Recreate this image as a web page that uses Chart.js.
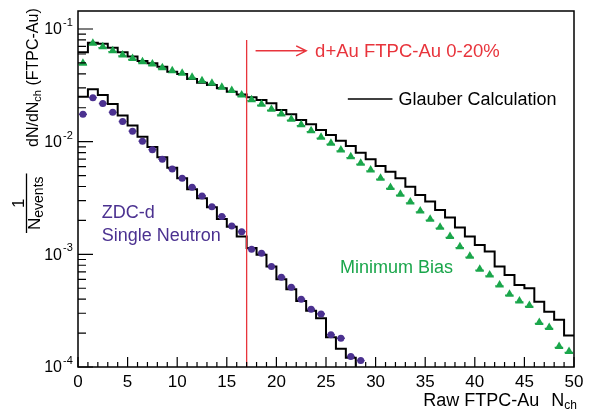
<!DOCTYPE html>
<html>
<head>
<meta charset="utf-8">
<script src="https://cdn.jsdelivr.net/npm/chart.js@4.4.0/dist/chart.umd.min.js"></script>
<style>
  html, body { margin: 0; padding: 0; background: #fff; }
  #wrap { width: 592px; height: 410px; position: relative; }
</style>
</head>
<body>
<div id="wrap"><canvas id="multChart"></canvas></div>
<script>
// one value per unit-width Nch bin, starting at Nch = 0
const glauberMinBias = [
  0.0621, 0.0756, 0.0741, 0.0683, 0.0621, 0.0569, 0.0520, 0.0496, 0.0463, 0.0418,
  0.0399, 0.0360, 0.0334, 0.0319, 0.0298, 0.0278, 0.0262, 0.0248, 0.0234, 0.0219,
  0.0191, 0.0175, 0.0156, 0.01426, 0.0127, 0.01146, 0.0102, 0.00916, 0.00798, 0.00698,
  0.00609, 0.00542, 0.00473, 0.00399, 0.00337, 0.00294, 0.00248, 0.00212, 0.00173, 0.00144,
  0.00121, 0.00106, 0.000778, 0.000656, 0.000535, 0.000500, 0.000380, 0.000310, 0.000262, 0.000190
];
const minBias = [
  0.0496, 0.0746, 0.0697, 0.0642, 0.0588, 0.0546, 0.0513, 0.0489, 0.0454, 0.0427,
  0.0405, 0.0373, 0.0348, 0.0330, 0.0304, 0.0284, 0.0260, 0.0236, 0.0215, 0.0194,
  0.0176, 0.0158, 0.0141, 0.01253, 0.01094, 0.00968, 0.00844, 0.00736, 0.00643, 0.00561,
  0.00473, 0.00391, 0.00341, 0.00291, 0.00243, 0.00205, 0.00174, 0.00144, 0.00117, 0.00096,
  0.000738, 0.000656, 0.000535, 0.000442, 0.000386, 0.000351, 0.000248, 0.000224, 0.000152, 0.000137
];
const glauberZdc = [
  0.0251, 0.0292, 0.0259, 0.0216, 0.0171, 0.0139, 0.01107, 0.00897, 0.00728, 0.00588,
  0.00473, 0.00378, 0.00315, 0.00262, 0.00206, 0.00176, 0.00144, 0.00114, 0.00099, 0.000778,
  0.000601, 0.00049, 0.000386, 0.000316, 0.000271, 0.000184, 0.000145, 0.000121, 0.00008
];
const zdcNeutron = [
  0.0175, 0.0246, 0.0218, 0.0182, 0.0151, 0.0124, 0.0101, 0.0085, 0.0070, 0.00573,
  0.00473, 0.00394, 0.0033, 0.00265, 0.00217, 0.00178, 0.00159, 0.00111, 0.00102, 0.000778,
  0.000627, 0.00051, 0.0004, 0.000326, 0.000296, 0.000193, 0.00018, 0.000124, 0.000114
];
const xMajorTicks = [0, 5, 10, 15, 20, 25, 30, 35, 40, 45, 50];
const yDecades = [1e-4, 1e-3, 1e-2, 1e-1];
const yExponents = ['-4', '-3', '-2', '-1'];
const centralityCut = 17;

const FONT = '"Liberation Sans", Arial, Helvetica, sans-serif';
const RED = '#e8343c';
const GREEN = '#1aa64b';
const PURPLE = '#4b3190';

// histogram outline: left edge of every bin plus closing edge
function stepPoints(vals) {
  const pts = vals.map((v, i) => ({ x: i, y: v }));
  pts.push({ x: vals.length, y: vals[vals.length - 1] });
  return pts;
}
function centrePoints(vals) {
  return vals.map((v, i) => ({ x: i + 0.5, y: v }));
}

const rootStyle = {
  id: 'rootStyle',
  beforeDatasetsDraw(chart) {
    const { ctx, scales: { x, y } } = chart;
    ctx.save();
    // horizontal bin-width bars on the measured points
    ctx.lineWidth = 1.5;
    ctx.strokeStyle = PURPLE;
    zdcNeutron.forEach((v, i) => {
      const py = y.getPixelForValue(v);
      ctx.beginPath();
      ctx.moveTo(x.getPixelForValue(i + 0.1), py);
      ctx.lineTo(x.getPixelForValue(i + 0.9), py);
      ctx.stroke();
    });
    ctx.strokeStyle = GREEN;
    ctx.setLineDash([1.5, 2]);
    minBias.forEach((v, i) => {
      const py = y.getPixelForValue(v) + 1;
      ctx.beginPath();
      ctx.moveTo(x.getPixelForValue(i + 0.05), py);
      ctx.lineTo(x.getPixelForValue(i + 0.95), py);
      ctx.stroke();
    });
    ctx.restore();
  },
  afterDraw(chart) {
    const { ctx, chartArea: a, scales: { x, y } } = chart;
    ctx.save();

    // cut line and arrow
    const cx = x.getPixelForValue(centralityCut);
    ctx.strokeStyle = RED;
    ctx.lineWidth = 1.3;
    ctx.beginPath();
    ctx.moveTo(cx, y.getPixelForValue(0.08));
    ctx.lineTo(cx, a.bottom);
    ctx.stroke();
    const ay = y.getPixelForValue(0.064);
    const ax0 = x.getPixelForValue(17.9), ax1 = x.getPixelForValue(23.0);
    ctx.lineWidth = 1.5;
    ctx.beginPath();
    ctx.moveTo(ax0, ay); ctx.lineTo(ax1, ay);
    ctx.moveTo(ax1 - 10, ay - 5); ctx.lineTo(ax1, ay); ctx.lineTo(ax1 - 10, ay + 5);
    ctx.stroke();

    ctx.font = '18.5px ' + FONT;
    ctx.textBaseline = 'middle';
    ctx.textAlign = 'left';
    ctx.fillStyle = RED;
    ctx.fillText('d+Au FTPC-Au 0-20%', x.getPixelForValue(23.9), ay + 1);

    // legend entry
    ctx.font = '18px ' + FONT;
    const ly = y.getPixelForValue(0.0239);
    ctx.strokeStyle = '#000';
    ctx.lineWidth = 1.5;
    ctx.beginPath();
    ctx.moveTo(x.getPixelForValue(27.2), ly);
    ctx.lineTo(x.getPixelForValue(31.7), ly);
    ctx.stroke();
    ctx.fillStyle = '#000';
    ctx.fillText('Glauber Calculation', x.getPixelForValue(32.3), ly + 1);

    ctx.fillStyle = PURPLE;
    ctx.fillText('ZDC-d', x.getPixelForValue(2.4), y.getPixelForValue(0.00233));
    ctx.fillText('Single Neutron', x.getPixelForValue(2.4), y.getPixelForValue(0.00146));
    ctx.fillStyle = GREEN;
    ctx.fillText('Minimum Bias', x.getPixelForValue(26.4), y.getPixelForValue(0.000757));

    // frame
    ctx.strokeStyle = '#000';
    ctx.lineWidth = 1.5;
    ctx.strokeRect(a.left, a.top, a.right - a.left, a.bottom - a.top);

    // x ticks (inward)
    ctx.lineWidth = 1.2;
    ctx.beginPath();
    for (let n = 0; n <= 50; n++) {
      const px = x.getPixelForValue(n);
      const len = n % 5 === 0 ? 10 : 5;
      ctx.moveTo(px, a.bottom);
      ctx.lineTo(px, a.bottom - len);
    }
    // y ticks (inward)
    yDecades.forEach(d => {
      for (let m = 1; m <= 9; m++) {
        const v = d * m;
        if (v > y.max) break;
        const py = y.getPixelForValue(v);
        ctx.moveTo(a.left, py);
        ctx.lineTo(a.left + (m === 1 ? 15 : 8), py);
      }
    });
    ctx.stroke();

    ctx.fillStyle = '#000';
    ctx.font = '17px ' + FONT;
    ctx.textAlign = 'center';
    ctx.textBaseline = 'alphabetic';
    xMajorTicks.forEach(t => ctx.fillText(String(t), x.getPixelForValue(t), a.bottom + 20));

    yDecades.forEach((d, i) => {
      const py = y.getPixelForValue(d);
      ctx.font = '16px ' + FONT;
      ctx.textAlign = 'right';
      ctx.textBaseline = 'middle';
      ctx.fillText('10', 62, py + 1);
      ctx.font = '11px ' + FONT;
      ctx.textAlign = 'left';
      ctx.fillText(yExponents[i], 63, py - 6);
    });

    // x title
    ctx.textBaseline = 'alphabetic';
    ctx.textAlign = 'right';
    ctx.font = '12px ' + FONT;
    ctx.fillText('ch', 577, 409);
    let rx = 577 - ctx.measureText('ch').width;
    ctx.font = '18px ' + FONT;
    ctx.fillText('N', rx, 406);
    rx -= ctx.measureText('N').width + 12;
    ctx.fillText('Raw FTPC-Au', rx, 406);

    // y title, rotated
    ctx.translate(0, 233);
    ctx.rotate(-Math.PI / 2);
    ctx.textAlign = 'left';
    ctx.font = '17px ' + FONT;
    let u = 3;
    ctx.fillText('N', u, 40);
    u += ctx.measureText('N').width;
    ctx.font = '14px ' + FONT;
    ctx.fillText('events', u, 43);
    u += ctx.measureText('events').width;
    ctx.lineWidth = 1.3;
    ctx.beginPath();
    ctx.moveTo(0, 26.5);
    ctx.lineTo(u + 3, 26.5);
    ctx.stroke();
    ctx.font = '17px ' + FONT;
    ctx.textAlign = 'center';
    ctx.fillText('1', (u + 3) / 2, 24);
    ctx.textAlign = 'left';
    u = 86;
    ctx.font = '16px ' + FONT;
    ctx.fillText('dN/dN', u, 38);
    u += ctx.measureText('dN/dN').width;
    ctx.font = '11px ' + FONT;
    ctx.fillText('ch', u, 41);
    u += ctx.measureText('ch').width;
    ctx.font = '16px ' + FONT;
    ctx.fillText(' (FTPC-Au)', u, 38);

    ctx.restore();
  }
};

new Chart(document.getElementById('multChart'), {
  type: 'line',
  data: {
    datasets: [
      {
        label: 'ZDC-d Single Neutron',
        data: centrePoints(zdcNeutron),
        showLine: false,
        pointStyle: 'circle',
        pointRadius: 3.5,
        pointBackgroundColor: PURPLE,
        pointBorderWidth: 0
      },
      {
        label: 'Minimum Bias',
        data: centrePoints(minBias),
        showLine: false,
        pointStyle: 'triangle',
        pointRadius: 5,
        pointBackgroundColor: GREEN,
        pointBorderWidth: 0
      },
      {
        label: 'Glauber (minimum bias)',
        data: stepPoints(glauberMinBias),
        stepped: 'before',
        borderColor: '#000',
        borderWidth: 2,
        pointRadius: 0,
        fill: false
      },
      {
        label: 'Glauber (ZDC-d)',
        data: stepPoints(glauberZdc),
        stepped: 'before',
        borderColor: '#000',
        borderWidth: 2,
        pointRadius: 0,
        fill: false
      }
    ]
  },
  options: {
    responsive: true,
    maintainAspectRatio: false,
    animation: false,
    layout: { padding: { left: 78, right: 18, top: 11, bottom: 43 } },
    plugins: {
      legend: { display: false },
      tooltip: { enabled: false }
    },
    scales: {
      x: { type: 'linear', min: 0, max: 50, display: false },
      y: { type: 'logarithmic', min: 1e-4, max: 0.1445, display: false }
    }
  },
  plugins: [rootStyle]
});
</script>
</body>
</html>
